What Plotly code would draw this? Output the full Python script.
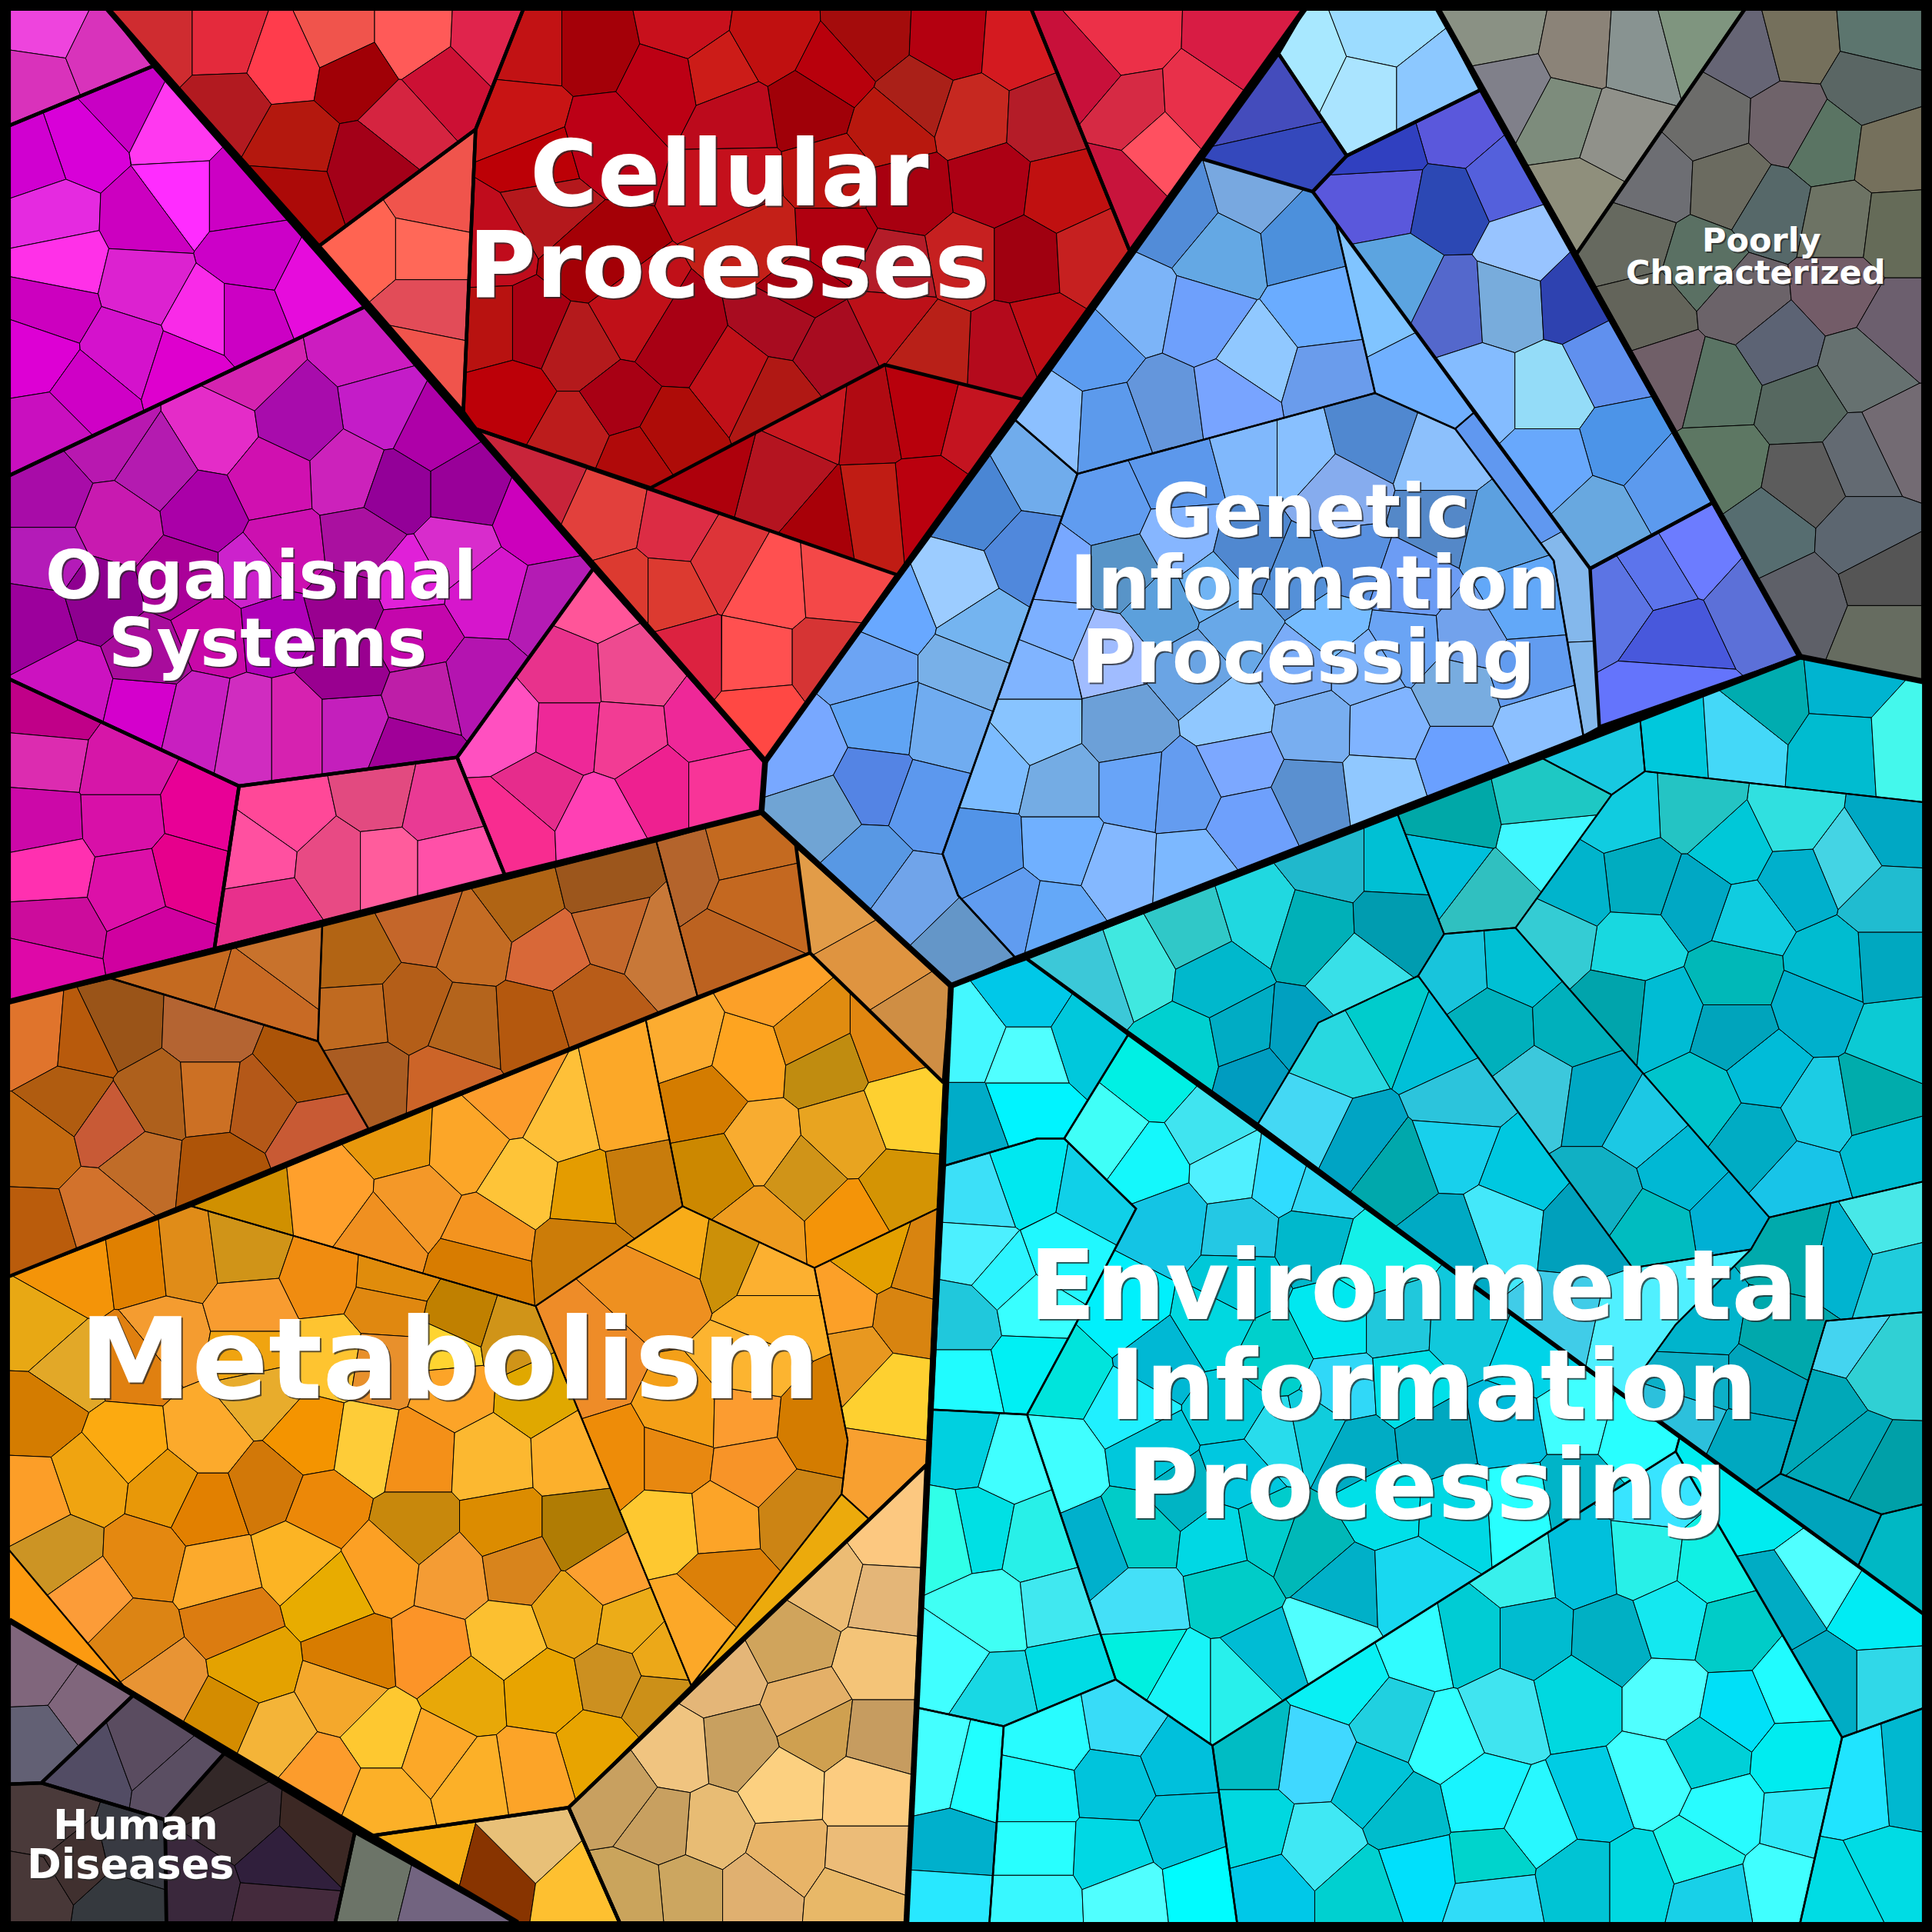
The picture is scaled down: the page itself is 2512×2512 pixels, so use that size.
import plotly.graph_objects as go

# Voronoi treemap: every cell is read off the picture as a site (x, y, colour),
# the outlines are the level boundaries. Coordinates run 0..1568 with y downwards.
L = 7.4
R = 1560.6

org_a_outline = [(L, L), (87.6, L), (124.4, 53.5), (L, 102)]
org_a_cells = [(35, 20, "#ee44dd"), (28, 68, "#d932bb"), (86, 45, "#d833bb")]

org_b_outline = [(L, 102), (124.4, 53.5), (296, 249), (L, 386)]
org_b_cells = [
    (100, 84, "#c800c4"), (65, 117, "#d800d8"), (140, 104, "#ff38f0"), (27, 130, "#d000d0"),
    (143, 160, "#ff2cff"), (42, 174, "#e52ae0"), (120, 177, "#cc00c0"), (50, 214, "#ff30e8"),
    (197, 160, "#cc00c4"), (204, 207, "#cc00c8"), (117, 230, "#dc22d0"), (43, 250, "#cc00bf"),
    (197, 258, "#cc00c4"), (257, 234, "#e60cdc"), (167, 258, "#f92ae8"), (100, 284, "#d412cc"),
    (30, 288, "#dd00d4"), (150, 300, "#de00ce"), (72, 318, "#cf00c6"), (40, 350, "#c90fbf"),
]

org_c_outline = [(L, 386), (296, 249), (481.5, 461.5), (371, 614.6), (194, 638), (L, 551)]
org_c_cells = [
    (200, 298, "#d423b0"), (298, 280, "#cc1cc0"), (312, 331, "#c41cc8"), (350, 350, "#ae00a8"),
    (175, 351, "#e42cc8"), (242, 341, "#a80cac"), (284, 385, "#cc22bb"), (378, 398, "#990099"),
    (321, 398, "#930098"), (220, 388, "#d010b0"), (127, 381, "#b41bb0"), (88, 355, "#b818b0"),
    (164, 415, "#aa00a8"), (97, 425, "#c81ab0"), (37, 401, "#a80ca8"), (37, 455, "#b41bb8"),
    (30, 500, "#9c009c"), (231, 448, "#cc10b0"), (294, 441, "#aa10a0"), (371, 448, "#d82ccc"),
    (435, 421, "#cc00bc"), (448, 492, "#b41bb4"), (207, 468, "#cc22cc"), (330, 471, "#e020d8"),
    (395, 478, "#d616cc"), (147, 468, "#aa0099"), (80, 485, "#8e0090"), (281, 492, "#990090"),
    (174, 512, "#c808a8"), (220, 508, "#b000b8"), (334, 515, "#c406ac"), (60, 558, "#cc12c0"),
    (117, 571, "#d400cc"), (120, 535, "#a80c9c"), (160, 581, "#c81fc0"), (202, 588, "#d02cc0"),
    (239, 588, "#d622b0"), (284, 588, "#c41fbc"), (281, 544, "#990090"), (344, 568, "#be1ea8"),
    (391, 558, "#b414b0"), (334, 608, "#a00098"),
]

org_d_outline = [(481.5, 461.5), (621, 618), (618, 659), (409.6, 710), (371, 614.6)]
org_d_cells = [
    (485, 488, "#ff5599"), (461, 547, "#e8328c"), (512, 544, "#ee4a90"), (411, 591, "#ff50c0"),
    (461, 594, "#ee2898"), (508, 598, "#f23c94"), (438, 641, "#e62c8c"), (415, 668, "#f82c90"),
    (485, 665, "#ff40b4"), (574, 591, "#ee2898"), (584, 638, "#f83498"), (534, 638, "#ee2090"),
]

org_e_outline = [(194, 638), (371, 614.6), (409.6, 710), (174, 770)]
org_e_cells = [
    (234, 661, "#ff4898"), (210, 695, "#ff50a0"), (217, 738, "#e8308c"), (271, 701, "#e84a84"),
    (308, 645, "#e24a80"), (354, 655, "#e93a94"), (314, 701, "#ff5c9c"), (364, 701, "#ff50a8"),
]

org_f_outline = [(L, 551), (194, 638), (174, 770), (L, 813)]
org_f_cells = [
    (40, 581, "#c00088"), (37, 614, "#dc2cb0"), (100, 625, "#d616a8"), (33, 668, "#cc08a8"),
    (164, 658, "#e80096"), (100, 665, "#d810a8"), (150, 708, "#e6008c"), (40, 705, "#ff30b0"),
    (108, 718, "#dc10a8"), (43, 755, "#cc0c9c"), (129, 767, "#d000a0"), (37, 782, "#de08a8"),
]

cel_a_outline = [(87.6, L), (424.7, L), (386, 105), (259, 199.6)]
cel_a_cells = [
    (130, 33, "#cf2c30"), (182, 33, "#e42a3c"), (231, 50, "#ff3c4c"), (274, 30, "#f0544c"),
    (334, 30, "#ff5a58"), (398, 33, "#e0244c"), (361, 70, "#cc1034"), (288, 60, "#a00006"),
    (328, 100, "#d52440"), (184, 87, "#b21a20"), (237, 117, "#b4180e"), (301, 134, "#a30018"),
    (234, 157, "#ac0a08"),
]

cel_b_outline = [(259, 199.6), (386, 105), (376, 334)]
cel_b_cells = [
    (351, 164, "#f0544c"), (344, 200, "#ff6858"), (298, 200, "#ff6452"), (344, 254, "#e24c58"),
    (338, 284, "#f0544c"),
]

cel_c_outline = [(424.7, L), (837, L), (917, 204), (830, 324), (718, 296), (528, 396), (386, 348),
                 (376, 334), (386, 105)]
cel_c_cells = [
    (431, 37, "#c21214"), (481, 37, "#a40008"), (555, 22, "#c8101c"), (425, 97, "#c81414"),
    (438, 130, "#bc0006"), (490, 115, "#bc0016"), (445, 170, "#b4181c"), (398, 197, "#c00c1c"),
    (478, 207, "#a40006"), (401, 268, "#b81210"), (431, 268, "#a80012"), (468, 284, "#b41a1c"),
    (515, 257, "#c01018"), (415, 321, "#bc0008"), (468, 351, "#bc1c1c"), (502, 328, "#a80014"),
    (515, 371, "#b00a0a"), (581, 60, "#cc1c18"), (628, 33, "#c01010"), (705, 30, "#a40c0c"),
    (772, 33, "#b40010"), (825, 37, "#d41a20"), (675, 57, "#b8000c"), (745, 80, "#aa2018"),
    (788, 94, "#c62820"), (848, 97, "#b41c28"), (658, 84, "#a00008"), (594, 94, "#bc0a1c"),
    (541, 67, "#bc0014"), (725, 104, "#b8180e"), (805, 150, "#ac0014"), (862, 157, "#c01010"),
    (738, 157, "#a80010"), (675, 144, "#bc1410"), (595, 147, "#c4101c"), (782, 210, "#c62020"),
    (832, 210, "#a00010"), (885, 207, "#c62020"), (728, 220, "#b41c28"), (675, 194, "#b00010"),
    (618, 197, "#c42018"), (845, 274, "#bc0c14"), (818, 284, "#b40a1c"), (755, 281, "#b82018"),
    (725, 257, "#bc1018"), (635, 260, "#a80c20"), (675, 281, "#a80c20"), (648, 235, "#a40010"),
    (548, 277, "#a80014"), (598, 308, "#c01018"), (625, 321, "#b01814"), (544, 351, "#ae0c08"),
]

cel_d_outline = [(528, 396), (718, 296), (830, 324), (728, 466.5)]
cel_d_cells = [
    (665, 334, "#c81820"), (705, 338, "#b00a12"), (745, 331, "#b8000c"), (798, 344, "#c41420"),
    (752, 411, "#ba000e"), (638, 395, "#b41420"), (571, 378, "#ae000c"), (668, 421, "#a80008"),
    (708, 415, "#c01c14"),
]

cel_e_outline = [(837, L), (1058.7, L), (917, 204)]
cel_e_cells = [
    (879, 57, "#c8103a"), (909, 30, "#ec3048"), (919, 91, "#d62a44"), (972, 88, "#e8304a"),
    (1009, 33, "#d81c44"), (942, 117, "#ff5060"), (905, 154, "#c8143c"),
]

cel_f_outline = [(386, 348), (728, 466.5), (621, 618), (481.5, 461.5)]
cel_f_cells = [
    (435, 395, "#c8243a"), (492, 421, "#e2403c"), (508, 478, "#dc3a30"), (548, 431, "#dc2c44"),
    (588, 455, "#dd3438"), (544, 478, "#dc3a30"), (623, 475, "#ff5050"), (681, 471, "#f44848"),
    (611, 536, "#ff5050"), (560, 536, "#dc2240"), (675, 536, "#d63434"), (615, 581, "#ff4844"),
]

gen_a_outline = [(1058.7, L), (1167, L), (1201.5, 73), (1093, 126.4), (1037.6, 43.5)]
gen_a_cells = [(1060, 50, "#a8e8ff"), (1120, 27, "#9cdcff"), (1110, 74, "#aae4ff"), (1157, 74, "#8cc8ff")]

gen_b_outline = [(1037.6, 43.5), (1093, 126.4), (1065.4, 155.5), (975.7, 129)]
gen_b_cells = [(1030, 85, "#444cbc"), (1040, 130, "#3448bc")]

gen_c_outline = [(1065.4, 155.5), (1093, 126.4), (1201.5, 73), (1390, 408), (1290.5, 461.5)]
gen_c_cells = [
    (1124, 157, "#5a58dc"), (1184, 104, "#5a58dc"), (1122, 122, "#3040c0"), (1176, 167, "#2c48b4"),
    (1221, 147, "#5460dc"), (1137, 227, "#5ca4e0"), (1178, 247, "#5468cc"), (1238, 200, "#98c4ff"),
    (1224, 244, "#78acdc"), (1278, 241, "#2e42b0"), (1201, 318, "#84bcff"), (1258, 318, "#94dcf8"),
    (1305, 294, "#6090ee"), (1318, 361, "#4c94e8"), (1258, 378, "#68a8fc"), (1351, 391, "#5c9aee"),
    (1298, 421, "#68a8e0"),
]

gen_d_outline = [(1390, 408), (1461, 533), (1298, 590), (1290.5, 461.5)]
gen_d_cells = [
    (1378, 448, "#6c7cff"), (1345, 468, "#5c74ec"), (1422, 488, "#5c70d8"), (1315, 488, "#5c74e4"),
    (1358, 518, "#4858dc"), (1355, 561, "#6474fc"),
]

gen_e_outline = [(975.7, 129), (1065.4, 155.5), (1084, 180), (1116, 319), (874.4, 384.6), (824, 341)]
gen_e_cells = [
    (957, 174, "#528cd8"), (1016, 157, "#78a8e0"), (993, 204, "#64a8e4"), (1056, 196, "#4c90dc"),
    (922, 251, "#7cb4f8"), (976, 261, "#6ea0fc"), (1070, 251, "#6aacff"), (1019, 291, "#90c8ff"),
    (1077, 308, "#6a9cec"), (890, 284, "#5c9cf0"), (852, 341, "#8cc0ff"), (902, 344, "#5c9aec"),
    (946, 328, "#6496dc"), (999, 321, "#78a4ff"),
]

gen_f_outline = [(1084, 180), (1196, 335), (1181, 348), (1116, 319)]
gen_f_cells = [(1117, 244, "#80c4ff"), (1151, 311, "#70b0ff")]

gen_g_outline = [(1196, 335), (1290.5, 461.5), (1298, 590), (1285, 597), (1261, 455), (1181, 348)]
gen_g_cells = [(1228, 394, "#6098f0"), (1278, 485, "#84b8ec"), (1281, 557, "#84b8ec")]

gen_h_outline = [(874.4, 384.6), (1116, 319), (1181, 348), (1261, 455), (1285, 597), (823.6, 776.8),
                 (777.5, 726.6), (765, 693)]
gen_h_cells = [
    (955, 385, "#5c98ec"), (899, 411, "#609cf0"), (1019, 368, "#80b8fc"), (1054, 368, "#88c0ff"),
    (1110, 354, "#5088d0"), (1171, 375, "#8cc0fc"), (1087, 398, "#86acee"), (1171, 421, "#5488c8"),
    (1214, 431, "#5ca0e0"), (1094, 458, "#5890e0"), (1144, 475, "#6c9cf4"), (1234, 492, "#62a8f8"),
    (1194, 516, "#72a2ec"), (1054, 468, "#5490d8"), (1080, 508, "#76bcff"), (1140, 520, "#6aa4f4"),
    (912, 465, "#5894c8"), (859, 465, "#78a8ff"), (959, 438, "#86b6ff"), (1012, 451, "#5088d0"),
    (942, 495, "#5ca0dc"), (986, 475, "#70b4f4"), (855, 511, "#7cb0ff"), (900, 530, "#a0bcff"),
    (1006, 511, "#68a8e8"), (969, 544, "#6aa4e4"), (842, 544, "#80b4ff"), (842, 591, "#88c4ff"),
    (914, 591, "#6ca0d8"), (999, 581, "#90c8ff"), (805, 625, "#7cbcff"), (862, 638, "#74ace4"),
    (922, 638, "#68a4f8"), (959, 641, "#649cf0"), (1006, 618, "#7ca8ff"), (1064, 645, "#5a90d0"),
    (1016, 668, "#6ea0fc"), (798, 691, "#5294e8"), (862, 688, "#70b0ff"), (909, 705, "#84b8ff"),
    (965, 708, "#7cb8ff"), (822, 738, "#609cf0"), (855, 745, "#64a8f8"), (1067, 590, "#78aef0"),
    (1124, 591, "#80b4ff"), (1184, 561, "#78ace0"), (1184, 618, "#6aa0ff"), (1251, 588, "#8cc0ff"),
    (1238, 544, "#629cf0"), (1121, 638, "#90c8ff"), (1107, 541, "#7db2fa"), (1054, 541, "#7aacf8"),
]

gen_i_outline = [(824, 341), (874.4, 384.6), (765, 693), (777.5, 726.6), (823.6, 776.8), (771.8, 800),
                 (618, 659), (621, 618)]
gen_i_cells = [
    (845, 381, "#70acec"), (792, 411, "#4a86d4"), (835, 451, "#5088dc"), (775, 475, "#9cccff"),
    (725, 495, "#68a8ff"), (798, 511, "#74b4f0"), (705, 544, "#6ca4f4"), (785, 544, "#78b0e8"),
    (651, 608, "#78a8ff"), (715, 581, "#60a4f4"), (768, 588, "#70acf0"), (708, 638, "#5484e4"),
    (752, 654, "#5c98ee"), (668, 661, "#70a4d4"), (705, 701, "#5898e4"), (742, 728, "#70a4ea"),
    (778, 765, "#6496c8"),
]

poor_a_outline = [(1167, L), (1416, L), (1279.5, 206)]
poor_a_cells = [
    (1218, 27, "#8a9184"), (1226, 70, "#80808a"), (1283, 40, "#8b8378"), (1271, 94, "#7d8c7c"),
    (1328, 43, "#889391"), (1378, 30, "#7f957f"), (1311, 107, "#90918a"), (1281, 164, "#8f8f7c"),
]

poor_b_outline = [(1416, L), (R, L), (R, 553), (1461, 533), (1279.5, 206)]
poor_b_cells = [
    (1418, 43, "#666575"), (1457, 33, "#75705c"), (1528, 27, "#5c756e"), (1388, 97, "#6c6c6a"),
    (1518, 70, "#5a6664"), (1452, 100, "#6f636a"), (1482, 117, "#5a7463"), (1535, 124, "#75705c"),
    (1341, 147, "#6d6e73"), (1405, 150, "#6b6b60"), (1438, 170, "#566869"), (1492, 181, "#6d7364"),
    (1539, 187, "#656b58"), (1325, 197, "#66695f"), (1381, 214, "#5a7063"), (1338, 251, "#63645a"),
    (1415, 244, "#6b6369"), (1492, 237, "#735c68"), (1539, 264, "#6c5f6e"), (1445, 281, "#5c6374"),
    (1355, 304, "#705f68"), (1395, 314, "#5a7464"), (1509, 298, "#667170"), (1462, 328, "#566860"),
    (1539, 358, "#736b73"), (1398, 378, "#5d7763"), (1512, 371, "#636a72"), (1465, 391, "#5c5c5c"),
    (1435, 431, "#566d70"), (1512, 435, "#5c6670"), (1462, 488, "#5e6068"), (1529, 468, "#555555"),
    (1529, 515, "#666c60"),
]

# the upper right part of the environmental block is split again by medium lines
env_a_cells = [
    (892, 795, "#3cc8d8"), (922, 785, "#40e8e0"), (969, 758, "#30c8c8"), (1022, 742, "#20d8e0"),
    (986, 792, "#00b8cc"), (959, 852, "#00d0d0"), (1012, 842, "#00acc4"), (1022, 869, "#009cc0"),
    (1077, 698, "#20b8cc"), (1137, 698, "#00c0d4"), (1064, 755, "#00b0b8"), (1134, 752, "#009cb0"),
    (1104, 792, "#38e0e8"), (1050, 845, "#00a0c0"), (1127, 835, "#00cccc"), (1087, 858, "#28d8e0"),
    (1164, 849, "#00c0d8"), (1067, 908, "#44d8f4"), (1104, 926, "#00a4c4"), (1184, 892, "#2cc4dc"),
    (1134, 949, "#00a8ac"), (1181, 932, "#18d0ec"), (1234, 952, "#00c8e0"), (1218, 992, "#44e8fa"),
    (1178, 1006, "#00aac4"), (1285, 999, "#00a0bc"), (1248, 885, "#3cc8dc"), (1298, 892, "#00a8c4"),
    (1334, 912, "#1cc8e4"), (1298, 969, "#10b0c4"), (1365, 949, "#00b8d4"), (1405, 989, "#00b0d4"),
    (1341, 999, "#00bcc0"), (1462, 959, "#18c4e8"), (1425, 925, "#00acc4"), (1381, 892, "#00c4cc"),
    (1478, 899, "#1ccce4"), (1519, 892, "#00acac"), (1432, 869, "#00bcd8"), (1408, 839, "#00a4bc"),
    (1408, 792, "#00b8b8"), (1475, 817, "#00b0cc"), (1488, 785, "#00bcd0"), (1539, 842, "#0ccad4"),
    (1532, 939, "#00bcd0"), (1532, 782, "#00a8c0"), (1535, 675, "#00a8c4"), (1532, 731, "#20bcd0"),
    (1499, 698, "#44d4e4"), (1458, 715, "#00b0cc"), (1408, 688, "#00c8d8"), (1455, 665, "#30e0e0"),
    (1378, 655, "#24c4c4"), (1418, 745, "#10cce0"), (1378, 731, "#00a8c4"), (1331, 715, "#00acc0"),
    (1278, 721, "#00b4cc"), (1315, 658, "#10cce0"), (1328, 768, "#18d8e0"), (1261, 758, "#34ccd4"),
    (1318, 819, "#00a4ac"), (1348, 822, "#00bcd4"), (1208, 725, "#30c0c0"), (1251, 681, "#40f8ff"),
    (1178, 702, "#00c0dc"), (1184, 665, "#00a8a8"), (1248, 651, "#1ec8c4"), (1291, 611, "#18c8e0"),
    (1361, 601, "#00c8dc"), (1408, 598, "#44d8f8"), (1435, 564, "#00acb0"), (1498, 558, "#00b4d0"),
    (1495, 604, "#00bcd0"), (1545, 601, "#44f8ec"), (1178, 785, "#18c4dc"), (1234, 782, "#00c0d4"),
    (1211, 835, "#00b0bc"), (1278, 832, "#00b0bc"), (1462, 1012, "#00aaac"), (1532, 993, "#48e8e8"),
    (1492, 1019, "#00b4d0"), (1542, 1035, "#20ccdc"), (1495, 1084, "#44d4f0"), (1532, 1110, "#30d0d4"),
    (1478, 1147, "#00a8b8"), (1505, 1181, "#00a8b8"), (1529, 1194, "#00a0a8"), (1535, 1251, "#00b8c4"),
    (1475, 1231, "#00a4bc"), (1380, 1077, "#00b4cc"), (1445, 1088, "#00a8ac"), (1428, 1120, "#00a4bc"),
    (1378, 1120, "#0cb0c8"), (1418, 1174, "#00a8c0"), (1368, 1151, "#2cc0dc"), (1311, 1077, "#50f0ff"),
    (1278, 1070, "#40cce8"),
]
env_a_parts = [
    [(833.6, 778.4), (1134, 660), (1172, 758), (1151, 792), (1070, 830), (1021, 912)],
    [(1134, 660), (1249, 614), (1308, 645), (1230, 753), (1172, 758)],
    [(1249, 614), (1331, 583), (1335, 626), (1308, 645)],
    [(1331, 583), (1461, 533), (R, 553), (R, 651), (1335, 626)],
    [(1308, 645), (1335, 626), (R, 651), (R, 959), (1436, 988), (1230, 753)],
    [(1172, 758), (1230, 753), (1436, 988), (1421, 1014), (1325, 1029), (1151, 792)],
    [(1021, 912), (1070, 830), (1151, 792), (1325, 1029), (1421, 1014), (1360, 1075), (1318, 1133)],
    [(1421, 1014), (1436, 988), (R, 959), (R, 1065), (1482, 1072), (1445, 1196), (1425, 1210), (1318, 1133), (1360, 1075)],
    [(1482, 1072), (R, 1065), (R, 1221), (1527, 1229), (1445, 1196)],
    [(1425, 1210), (1445, 1196), (1527, 1229), (1508, 1271)],
    [(1527, 1229), (R, 1221), (R, 1309.5), (1508, 1271)],
]

env_b_outline = [(771.8, 800), (833.6, 778.4), (915.5, 840), (863.7, 924), (842, 924), (767, 946)]
env_b_cells = [
    (788, 842, "#44f8ff"), (832, 808, "#00c8e8"), (885, 842, "#00c8dc"), (832, 859, "#50ffff"),
    (832, 899, "#00f4ff"), (788, 915, "#00acc8"),
]

env_c_outline = [(767, 946), (842, 924), (863.7, 924), (922, 981), (868.7, 1083), (833.6, 1148), (756.7, 1144)]
env_c_cells = [
    (832, 959, "#00e8f0"), (795, 972, "#3ce0f8"), (889, 969, "#10d0e8"), (792, 1016, "#4cf0ff"),
    (862, 1019, "#20f8ff"), (815, 1036, "#2cf4ff"), (782, 1070, "#20c8dc"), (782, 1121, "#20fcff"),
    (837, 1060, "#38ffff"), (835, 1110, "#00f0f4"),
]

env_d_outline = [(756.7, 1144), (833.6, 1148), (905.5, 1363), (814.6, 1401), (745, 1386)]
env_d_cells = [
    (785, 1174, "#00d0e0"), (819, 1184, "#40ffff"), (792, 1241, "#00e0e4"), (845, 1251, "#28f0e8"),
    (772, 1245, "#30ffe8"), (802, 1311, "#40fff4"), (859, 1305, "#40e8f0"), (775, 1351, "#40ffff"),
    (805, 1371, "#18d8e4"), (869, 1358, "#00dce4"),
]

env_e_outline = [(745, 1386), (814.6, 1401), (803, R), (735.6, R)]
env_e_cells = [(762, 1438, "#44ffff"), (792, 1445, "#20ffff"), (775, 1498, "#00b0cc"), (772, 1542, "#28e8ff")]

env_f_outline = [(814.6, 1401), (905.5, 1363), (984, 1416.6), (1004, R), (803, R)]
env_f_cells = [
    (852, 1408, "#28fcff"), (912, 1398, "#38dcf8"), (956, 1428, "#00c0dc"), (842, 1455, "#18f8fc"),
    (905, 1448, "#00c4dc"), (959, 1485, "#00c4dc"), (842, 1502, "#28ffff"), (902, 1505, "#00d8e4"),
    (842, 1542, "#38f8ff"), (915, 1539, "#50ffff"), (976, 1532, "#00fcff"),
]

env_g_outline = [(915.5, 840), (1363, 1167), (1360, 1178), (984, 1416.6), (905.5, 1363), (833.6, 1148),
                 (868.7, 1083), (922, 981), (863.7, 924)]
env_g_cells = [
    (936, 875, "#00f0e4"), (899, 922, "#40fff8"), (932, 946, "#14f8fc"), (982, 916, "#40e4f0"),
    (999, 949, "#50f0ff"), (949, 992, "#14c4e4"), (1006, 999, "#24c8e4"), (1039, 955, "#30dcff"),
    (1072, 966, "#30d8f4"), (1067, 1005, "#00b8cc"), (1117, 1019, "#14f0e8"), (1005, 1040, "#00c8d8"),
    (942, 1104, "#00b8d4"), (865, 1114, "#00e4dc"), (986, 1077, "#00d8e0"), (912, 1064, "#00f0fc"),
    (1032, 1100, "#00d0cc"), (919, 1144, "#20f0ff"), (859, 1187, "#40ffff"), (936, 1177, "#00c8dc"),
    (999, 1144, "#00ccdc"), (1036, 1167, "#28dcec"), (959, 1211, "#00b4c4"), (1006, 1194, "#00c8e0"),
    (889, 1258, "#00b0cc"), (926, 1244, "#00ccc8"), (989, 1251, "#00d8e4"), (1029, 1244, "#00cccc"),
    (926, 1301, "#44e0f8"), (999, 1291, "#00ccc8"), (929, 1348, "#00f0e0"), (959, 1365, "#18f4f8"),
    (1006, 1365, "#28f0ec"), (1026, 1345, "#00bcd4"), (1084, 1074, "#00e8f0"), (1134, 1074, "#20c8dc"),
    (1188, 1077, "#10c8dc"), (1090, 1127, "#30d8f8"), (1141, 1124, "#00e0e8"), (1246, 1100, "#00d4e8"),
    (1067, 1161, "#10ccdc"), (1100, 1178, "#00acc4"), (1167, 1171, "#00a8c0"), (1224, 1161, "#00bcdc"),
    (1278, 1151, "#40ffff"), (1328, 1164, "#28ffff"), (1231, 1218, "#28ffff"), (1121, 1218, "#00e0e8"),
    (1060, 1255, "#00b8b8"), (1090, 1290, "#00b0c8"), (1184, 1221, "#00d8e4"), (1144, 1288, "#18d8f0"),
    (1077, 1328, "#50ffff"), (1278, 1210, "#00b4c8"),
]

env_h_outline = [(984, 1416.6), (1360, 1178), (1495, 1410), (1461, R), (1004, R)]
env_h_cells = [
    (1341, 1211, "#38e4ff"), (1154, 1335, "#30fcff"), (1090, 1361, "#08f0f4"), (1191, 1328, "#00ccd4"),
    (1234, 1274, "#38f0ec"), (1285, 1268, "#00c0dc"), (1335, 1264, "#28f0e8"), (1391, 1271, "#10f0e4"),
    (1244, 1328, "#00bcd0"), (1308, 1331, "#00b0c4"), (1358, 1315, "#14e8f0"), (1405, 1325, "#00ccc8"),
    (1455, 1368, "#20fcff"), (1278, 1378, "#00d8e0"), (1355, 1378, "#50ffff"), (1408, 1388, "#00e0f8"),
    (1221, 1391, "#40e4f0"), (1385, 1422, "#00d0d8"), (1458, 1428, "#00ecf0"), (1462, 1478, "#30e8f8"),
    (1398, 1472, "#28fcff"), (1341, 1445, "#40ffff"), (1291, 1462, "#00cce4"), (1378, 1505, "#20f8ec"),
    (1448, 1529, "#40ffff"), (1204, 1458, "#18f4ff"), (1251, 1478, "#28f8ff"), (1208, 1512, "#00d4cc"),
    (1171, 1412, "#30ffff"), (1134, 1398, "#20d0e0"), (1114, 1448, "#00c4d8"), (1141, 1472, "#00bccc"),
    (1067, 1428, "#40d8ff"), (1071, 1498, "#40e8f4"), (1151, 1519, "#00e0fc"), (1104, 1535, "#00d0d0"),
    (1030, 1535, "#00c8e8"), (1211, 1539, "#30dcf8"), (1285, 1525, "#00c4d4"), (1328, 1525, "#00d8e0"),
    (1388, 1539, "#18d0e8"), (1016, 1421, "#00bcc4"), (1016, 1484, "#00d8e0"),
]

env_i_outline = [(1363, 1167), (R, 1309.5), (R, 1386.5), (1495, 1410), (1360, 1178)]
env_i_cells = [
    (1445, 1298, "#00acc4"), (1475, 1278, "#50ffff"), (1525, 1308, "#00ecf4"), (1485, 1368, "#00acc4"),
    (1529, 1368, "#30d8e8"), (1431, 1218, "#00ecf0"),
]

env_j_outline = [(1495, 1410), (R, 1386.5), (R, R), (1461, R)]
env_j_cells = [(1512, 1448, "#20e4ff"), (1549, 1445, "#00b8d0"), (1535, 1522, "#00dce4"), (1495, 1542, "#00dce4")]

met_a_outline = [(90, 794), (261.5, 751.7), (258, 845)]
met_a_cells = [(150, 788, "#c46a20"), (211, 805, "#c86a24"), (231, 778, "#c8722c")]

met_b_cells = [
    (288, 778, "#b26414"), (344, 748, "#c4662a"), (421, 735, "#b06414"), (491, 718, "#9c561c"),
    (385, 762, "#c46c24"), (291, 822, "#c06a20"), (334, 818, "#b45e18"), (378, 835, "#b4641c"),
    (298, 875, "#aa5c22"), (364, 878, "#cc6428"), (445, 772, "#d86838"), (431, 832, "#b4580e"),
    (478, 818, "#b85c18"), (498, 752, "#c4682c"), (537, 765, "#c87838"), (548, 701, "#b4642c"),
    (608, 685, "#c46a20"), (618, 731, "#c46820"), (598, 775, "#bc6220"),
]
met_b_parts = [
    [(261.5, 751.7), (532.7, 683), (566, 808.5), (299, 916), (258, 845)],
    [(532.7, 683), (618, 659), (646, 686.5), (657.4, 773.4), (566, 808.5)],
]

met_c_outline = [(L, 813), (90, 794), (258, 845), (299, 916), (L, 1036)]
met_c_cells = [
    (30, 842, "#e0742c"), (94, 832, "#9a5418"), (67, 845, "#b85a0c"), (57, 892, "#b05c10"),
    (170, 835, "#b46432"), (244, 865, "#ac5408"), (127, 892, "#ae601c"), (170, 889, "#cc7024"),
    (211, 895, "#b45818"), (30, 929, "#c46a10"), (90, 915, "#c85a36"), (114, 946, "#c06c28"),
    (177, 952, "#ae5408"), (254, 922, "#c85a34"), (27, 999, "#ba5c0c"), (84, 982, "#d2722c"),
]

met_d_outline = [(646, 686.5), (771.8, 800), (765.7, 878.7), (657.4, 773.4)]
met_d_cells = [(681, 728, "#e29c48"), (711, 782, "#df9440"), (742, 832, "#cf8e44")]

met_e_outline = [(155.5, 979), (524, 827), (554, 979), (434.7, 1060)]
met_e_cells = [
    (200, 979, "#d09000"), (271, 972, "#ffa02c"), (321, 926, "#e8980c"), (334, 976, "#f49828"),
    (378, 929, "#fca628"), (415, 889, "#fc9c2c"), (458, 912, "#fec038"), (425, 959, "#fec438"),
    (308, 999, "#f09020"), (395, 1006, "#f49420"), (475, 966, "#e49c00"), (471, 1016, "#cc7c08"),
    (516, 960, "#c87c0c"), (505, 902, "#fca828"), (391, 1022, "#d87c00"),
]

met_f_outline = [(524, 827), (657.4, 773.4), (765.7, 878.7), (760.7, 981), (661, 1029), (554, 979)]
met_f_cells = [
    (554, 845, "#fcac30"), (608, 858, "#fea420"), (625, 802, "#fca028"), (571, 895, "#d47c00"),
    (658, 842, "#e08c10"), (668, 862, "#c08c10"), (722, 842, "#e08610"), (616, 929, "#f8ac30"),
    (581, 949, "#cc8800"), (685, 922, "#e8a420"), (738, 902, "#fed030"), (653, 956, "#d09418"),
    (732, 966, "#d49404"), (688, 992, "#f49408"), (618, 996, "#ee9c20"),
]

met_g_outline = [(661, 1029), (760.7, 981), (751.7, 1189), (705, 1232.6), (683, 1212.6), (688, 1169)]
met_g_cells = [
    (712, 1022, "#e4a000"), (745, 1032, "#d88410"), (735, 1067, "#d88410"), (692, 1100, "#e89820"),
    (725, 1131, "#fed030"), (715, 1197, "#f8a030"), (685, 1060, "#fca028"),
]

met_h_outline = [(554, 979), (661, 1029), (688, 1169), (683, 1212.6), (561, 1368), (434.7, 1060)]
met_h_cells = [
    (551, 1016, "#f8ac18"), (591, 1022, "#cc9008"), (624, 1036, "#fcb030"), (624, 1067, "#fcb028"),
    (475, 1110, "#ee8c28"), (498, 1184, "#ee8c08"), (540, 1040, "#ee9020"), (558, 1150, "#f4a018"),
    (601, 1151, "#fc9c30"), (548, 1184, "#e88810"), (544, 1238, "#fec830"), (584, 1234, "#fca428"),
    (608, 1191, "#f89428"), (663, 1157, "#d47c00"), (648, 1231, "#cc8414"), (588, 1285, "#dc8008"),
    (561, 1315, "#fca828"), (608, 1107, "#fcb430"),
]

met_i_outline = [(683, 1212.6), (705, 1232.6), (561, 1368)]
met_i_cells = [(658, 1271, "#ecaa0c")]

met_j_outline = [(L, 1036), (155.5, 979), (434.7, 1060), (561, 1368), (461.5, 1467), (301, 1490), (100, 1368), (L, 1258)]
met_j_cells = [
    (60, 1032, "#f49408"), (117, 1025, "#e08000"), (147, 1022, "#e08c18"), (200, 1015, "#d09418"),
    (261, 1036, "#f08c10"), (318, 1040, "#e08c0c"), (374, 1074, "#c08000"), (33, 1080, "#e8a814"),
    (57, 1107, "#e2a828"), (134, 1084, "#f49c30"), (204, 1064, "#f89c30"), (204, 1097, "#f0a410"),
    (268, 1100, "#fec430"), (314, 1060, "#e08810"), (311, 1107, "#e8902c"), (365, 1094, "#fed430"),
    (415, 1087, "#d09418"), (435, 1131, "#e0a800"), (368, 1127, "#fca428"), (211, 1131, "#e8ac2c"),
    (110, 1104, "#e08010"), (30, 1147, "#d47c00"), (104, 1174, "#fcaa10"), (167, 1167, "#fcaa2c"),
    (251, 1167, "#f49400"), (298, 1174, "#fecc38"), (338, 1181, "#f49018"), (398, 1184, "#fcb830"),
    (465, 1181, "#fcb02c"), (27, 1217, "#fc9e28"), (74, 1201, "#f0a410"), (134, 1208, "#e89808"),
    (167, 1224, "#e28000"), (217, 1207, "#d27808"), (261, 1224, "#ec8808"), (338, 1241, "#c8880c"),
    (408, 1241, "#dc8c00"), (472, 1241, "#b07c04"), (50, 1261, "#cc9424"), (117, 1264, "#e48810"),
    (177, 1278, "#fcaa2c"), (241, 1264, "#fcb424"), (311, 1271, "#fca024"), (368, 1278, "#f49c34"),
    (418, 1271, "#d8841c"), (495, 1278, "#fca030"), (74, 1295, "#fc9c38"), (187, 1315, "#dc7c10"),
    (268, 1294, "#e8ac00"), (110, 1331, "#dc8414"), (411, 1331, "#fcc030"), (465, 1311, "#e8a414"),
    (351, 1341, "#fc9428"), (288, 1345, "#d87c00"), (134, 1365, "#e89434"), (204, 1355, "#e4a200"),
    (278, 1375, "#f4a82c"), (378, 1375, "#e8a808"), (441, 1371, "#e8a400"), (498, 1361, "#cc9020"),
    (184, 1392, "#d48c00"), (221, 1408, "#f4b438"), (311, 1408, "#fec830"), (485, 1422, "#e8a400"),
    (261, 1442, "#fc9c2c"), (354, 1422, "#fca828"), (431, 1438, "#fca428"), (311, 1462, "#fcb028"),
    (385, 1445, "#fcb028"), (537, 1345, "#eca818"), (534, 1378, "#cc9018"), (510, 1318, "#ecac18"),
]

met_k_outline = [(L, 1258), (100, 1368), (L, 1315)]
met_k_cells = [(35, 1320, "#fc9a10")]

met_l_outline = [(301, 1490), (461.5, 1467), (503, R), (420, R)]
met_l_cells = [(351, 1512, "#f4ac14"), (401, 1525, "#883400"), (431, 1495, "#e8c078"), (468, 1535, "#fec030")]

met_m_outline = [(461.5, 1467), (751.7, 1189), (735.6, R), (503, R)]
met_m_cells = [
    (725, 1244, "#fcc880"), (722, 1298, "#e4b678"), (668, 1285, "#ecbc74"), (715, 1351, "#f4c478"),
    (641, 1331, "#d0a45c"), (584, 1361, "#e4b678"), (656, 1388, "#e4b068"), (663, 1402, "#cfa050"),
    (715, 1408, "#c69c60"), (598, 1418, "#c8a060"), (548, 1422, "#f0c480"), (635, 1452, "#fcd080"),
    (702, 1455, "#fccc80"), (578, 1485, "#e8bc74"), (638, 1505, "#e8b468"), (702, 1509, "#ecbc78"),
    (538, 1482, "#c8a060"), (558, 1535, "#cca660"), (615, 1535, "#e0b070"), (691, 1541, "#e8b868"),
    (515, 1539, "#caa45c"), (502, 1455, "#c8a060"),
]

hum_a_outline = [(L, 1315), (108, 1376), (33.6, 1447), (L, 1448)]
hum_a_cells = [(27, 1351, "#80667c"), (74, 1385, "#80667c"), (30, 1418, "#626074")]

hum_b_outline = [(108, 1376), (182, 1423), (134, 1477), (33.6, 1447)]
hum_b_cells = [(74, 1435, "#524c64"), (120, 1418, "#5a4c60"), (144, 1445, "#5a4e62")]

hum_c_outline = [(L, 1448), (33.6, 1447), (134, 1477), (135, R), (L, R)]
hum_c_cells = [(37, 1478, "#4a3a3a"), (107, 1502, "#383a42"), (94, 1545, "#35393e"), (27, 1535, "#483838"), (64, 1512, "#40302f")]

hum_d_outline = [(182, 1423), (288, 1487), (272, R), (135, R), (134, 1477)]
hum_d_cells = [
    (180, 1445, "#332828"), (197, 1478, "#3c2e34"), (257, 1482, "#3c2824"), (227, 1512, "#301f3c"),
    (160, 1535, "#3a283c"), (224, 1549, "#442a3c"),
]

hum_e_outline = [(288, 1487), (420, R), (272, R)]
hum_e_cells = [(301, 1525, "#6c7468"), (358, 1539, "#726480")]

# thick outer boundaries of the seven categories
top_outlines = [
    [(87.6, L), (621, 618), (618, 659), (L, 813)],
    [(1058.7, L), (621, 618)],
    [(1167, L), (1461, 533), (771.8, 800), (618, 659)],
    [(1461, 533), (R, 553)],
    [(771.8, 800), (735.6, R)],
    [(L, 1315), (420, R)],
]

# medium boundaries inside the categories
mid_outlines = [
    [(L, 1036), (657.4, 773.4)],
    [(833.6, 778.4), (R, 1309.5)],
    [(461.5, 1467), (751.7, 1189)],
    [(301, 1490), (461.5, 1467), (503, R)],
]

# label text, centre x, centre y, font size
labels = [
    ("Cellular", 592, 141, 120), ("Processes", 592, 215, 120),
    ("Genetic", 1064, 415, 96), ("Information", 1067, 473, 96), ("Processing", 1062, 533, 96),
    ("Poorly", 1430, 195, 43), ("Characterized", 1425, 221, 43),
    ("Organismal", 212, 467, 87), ("Systems", 217, 522, 87),
    ("Metabolism", 365, 1103, 147),
    ("Environmental", 1161, 1043, 127), ("Information", 1163, 1124, 127), ("Processing", 1158, 1205, 127),
    ("Human", 110, 1481, 54), ("Diseases", 106, 1513, 54),
]


def contains(outline, x, y):
    hit = False
    for i, a in enumerate(outline):
        b = outline[(i + 1) % len(outline)]
        if (a[1] > y) != (b[1] > y) and x < a[0] + (y - a[1]) / (b[1] - a[1]) * (b[0] - a[0]):
            hit = not hit
    return hit


def within(outline, cells):
    return [c for c in cells if contains(outline, c[0], c[1])]


regions = [
    (org_a_outline, org_a_cells, 4.5), (org_b_outline, org_b_cells, 4.5), (org_c_outline, org_c_cells, 4.5),
    (org_d_outline, org_d_cells, 4.5), (org_e_outline, org_e_cells, 4.5), (org_f_outline, org_f_cells, 4.5),
    (cel_a_outline, cel_a_cells, 4.5), (cel_b_outline, cel_b_cells, 4.5), (cel_c_outline, cel_c_cells, 4.5),
    (cel_d_outline, cel_d_cells, 2), (cel_e_outline, cel_e_cells, 4.5), (cel_f_outline, cel_f_cells, 4.5),
    (gen_a_outline, gen_a_cells, 4.5), (gen_b_outline, gen_b_cells, 4.5), (gen_c_outline, gen_c_cells, 4.5),
    (gen_d_outline, gen_d_cells, 4.5), (gen_e_outline, gen_e_cells, 2.5), (gen_f_outline, gen_f_cells, 2),
    (gen_g_outline, gen_g_cells, 2), (gen_h_outline, gen_h_cells, 2.5), (gen_i_outline, gen_i_cells, 2.5),
    (poor_a_outline, poor_a_cells, 4.5), (poor_b_outline, poor_b_cells, 4.5),
    (env_b_outline, env_b_cells, 2.5), (env_c_outline, env_c_cells, 2.5),
    (env_d_outline, env_d_cells, 2.5), (env_e_outline, env_e_cells, 2.5), (env_f_outline, env_f_cells, 2.5),
    (env_g_outline, env_g_cells, 2.5), (env_h_outline, env_h_cells, 2.5), (env_i_outline, env_i_cells, 2.5),
    (env_j_outline, env_j_cells, 2.5),
    (met_a_outline, met_a_cells, 2.5), (met_c_outline, met_c_cells, 2.5),
    (met_d_outline, met_d_cells, 4.5), (met_e_outline, met_e_cells, 2), (met_f_outline, met_f_cells, 2),
    (met_g_outline, met_g_cells, 2), (met_h_outline, met_h_cells, 2), (met_i_outline, met_i_cells, 2),
    (met_j_outline, met_j_cells, 2), (met_k_outline, met_k_cells, 2), (met_l_outline, met_l_cells, 4.5),
    (met_m_outline, met_m_cells, 4.5),
    (hum_a_outline, hum_a_cells, 4.5), (hum_b_outline, hum_b_cells, 4.5), (hum_c_outline, hum_c_cells, 4.5),
    (hum_d_outline, hum_d_cells, 4.5), (hum_e_outline, hum_e_cells, 4.5),
]
regions += [(part, within(part, env_a_cells), 2) for part in env_a_parts]
regions += [(part, within(part, met_b_cells), 2) for part in met_b_parts]


def clip_half_plane(poly, site, other):
    # keep the part of poly that is nearer to site than to other
    mx, my = (site[0] + other[0]) / 2, (site[1] + other[1]) / 2
    nx, ny = other[0] - site[0], other[1] - site[1]
    side = lambda p: (p[0] - mx) * nx + (p[1] - my) * ny
    out = []
    for i, p in enumerate(poly):
        q = poly[(i + 1) % len(poly)]
        sp, sq = side(p), side(q)
        if sp <= 0:
            out.append(p)
        if sp * sq < 0:
            t = sp / (sp - sq)
            out.append((p[0] + t * (q[0] - p[0]), p[1] + t * (q[1] - p[1])))
    return out


def add_line(fig, pts, width, closed=True):
    xs = [p[0] for p in pts]
    ys = [p[1] for p in pts]
    if closed:
        xs.append(pts[0][0])
        ys.append(pts[0][1])
    fig.add_trace(go.Scatter(x=xs, y=ys, mode="lines", line=dict(color="black", width=width),
                             hoverinfo="skip", showlegend=False))


fig = go.Figure()

for outline, cells, _ in regions:
    for cell in cells:
        poly = list(outline)
        for other in cells:
            if other is not cell and poly:
                poly = clip_half_plane(poly, cell, other)
        if len(poly) < 3:
            continue
        fig.add_trace(go.Scatter(
            x=[p[0] for p in poly] + [poly[0][0]],
            y=[p[1] for p in poly] + [poly[0][1]],
            mode="lines", fill="toself", fillcolor=cell[2],
            line=dict(color="black", width=1),
            hoverinfo="skip", showlegend=False,
        ))

for outline, _, width in regions:
    add_line(fig, outline, width)
for pts in mid_outlines:
    add_line(fig, pts, 4.5, closed=False)
for pts in top_outlines:
    add_line(fig, pts, 7.5, closed=False)

for text, x, y, size in labels:
    fig.add_annotation(x=x, y=y, text=f"<b>{text}</b>", showarrow=False, xanchor="center", yanchor="middle",
                       font=dict(family="DejaVu Sans", size=size, color="white",
                                 shadow="2px 2px 0px rgba(40,40,40,0.75)"))

fig.update_layout(
    width=2512, height=2512, autosize=False,
    margin=dict(l=0, r=0, t=0, b=0),
    paper_bgcolor="black", plot_bgcolor="black",
    xaxis=dict(range=[0, 1568], visible=False, fixedrange=True),
    yaxis=dict(range=[1568, 0], visible=False, fixedrange=True),
)

fig.write_html("out.html", config=dict(displayModeBar=False), post_script="document.body.style.margin='0';")
